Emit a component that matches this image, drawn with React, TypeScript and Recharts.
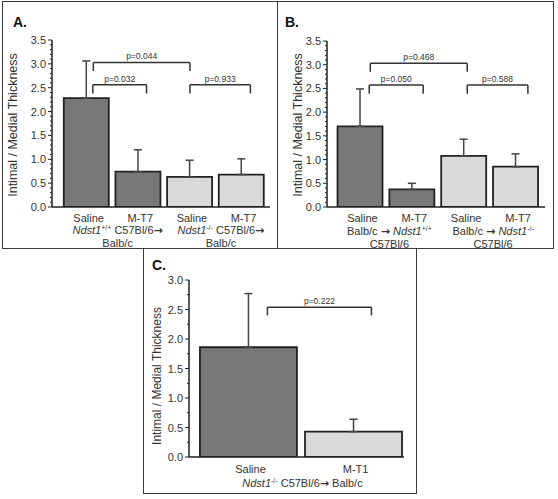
import React from "react";
import { BarChart, Bar, XAxis, YAxis, Cell, ErrorBar, ReferenceLine } from "recharts";

type Seg = [string, "n" | "i" | "s" | "a"];
type Bracket = { from: number; to: number; top: number; leg: number; text: string };

// ---- panel A ----
const treatmentsA = ["Saline", "M-T7", "Saline", "M-T7"];
const meansA = [2.28, 0.74, 0.63, 0.68];
const errorsA = [0.78, 0.46, 0.35, 0.33];
const donorsA: Seg[][] = [
  [["Ndst1", "i"], ["+/+", "s"], [" C57Bl/6", "n"], ["→", "a"]],
  [["Ndst1", "i"], ["-/-", "s"], [" C57Bl/6", "n"], ["→", "a"]],
];
const hostsA = ["Balb/c", "Balb/c"];
const bracketsA: Bracket[] = [
  { from: 1.13, to: 3.0, top: 3.03, leg: 2.85, text: "p=0.044" },
  { from: 1.12, to: 2.16, top: 2.56, leg: 2.38, text: "p=0.032" },
  { from: 3.0, to: 4.17, top: 2.56, leg: 2.38, text: "p=0.933" },
];

// ---- panel B ----
const treatmentsB = ["Saline", "M-T7", "Saline", "M-T7"];
const meansB = [1.7, 0.37, 1.08, 0.85];
const errorsB = [0.79, 0.13, 0.35, 0.27];
const donorsB: Seg[][] = [
  [["Balb/c ", "n"], ["→", "a"], [" ", "n"], ["Ndst1", "i"], ["+/+", "s"]],
  [["Balb/c ", "n"], ["→", "a"], [" ", "n"], ["Ndst1", "i"], ["-/-", "s"]],
];
const hostsB = ["C57Bl/6", "C57Bl/6"];
const bracketsB: Bracket[] = [
  { from: 1.19, to: 3.06, top: 3.03, leg: 2.85, text: "p=0.468" },
  { from: 1.17, to: 2.21, top: 2.57, leg: 2.39, text: "p=0.050" },
  { from: 3.06, to: 4.23, top: 2.57, leg: 2.39, text: "p=0.588" },
];

// ---- panel C ----
const treatmentsC = ["Saline", "M-T1"];
const meansC = [1.86, 0.43];
const errorsC = [0.91, 0.21];
const donorsC: Seg[][] = [[["Ndst1", "i"], ["-/-", "s"], [" C57Bl/6", "n"], ["→", "a"], [" Balb/c", "n"]]];
const bracketsC: Bracket[] = [{ from: 1.18, to: 2.17, top: 2.54, leg: 2.4, text: "p=0.222" }];

// ---- axes ----
const yTicksAB = [
  0, 0.1, 0.2, 0.3, 0.4, 0.5, 0.6, 0.7, 0.8, 0.9, 1, 1.1, 1.2, 1.3, 1.4, 1.5, 1.6, 1.7,
  1.8, 1.9, 2, 2.1, 2.2, 2.3, 2.4, 2.5, 2.6, 2.7, 2.8, 2.9, 3, 3.1, 3.2, 3.3, 3.4, 3.5,
];
const yMajorAB = [0, 0.5, 1, 1.5, 2, 2.5, 3, 3.5];
const yTicksC = [0, 0.25, 0.5, 0.75, 1, 1.25, 1.5, 1.75, 2, 2.25, 2.5, 2.75, 3];
const yMajorC = [0, 0.5, 1, 1.5, 2, 2.5, 3];
const yTitle = "Intimal / Medial Thickness";

const DARK = "#787878";
const LIGHT = "#d9d9d9";
const FONT = "'Liberation Sans', Arial, sans-serif";
const INK = "#333";

function segs(parts: Seg[]) {
  let raised = false;
  return parts.map(([t, k], i) => {
    let dy = 0;
    if (k === "s" && !raised) { dy = -4; raised = true; }
    else if (k !== "s" && raised) { dy = 4; raised = false; }
    return (
      <tspan key={i} dy={dy || undefined}
        fontStyle={k === "i" ? "italic" : undefined}
        fontSize={k === "s" ? 7 : undefined}
        fontFamily={k === "a" ? "'DejaVu Sans', sans-serif" : undefined}
        fontWeight={k === "a" ? 700 : undefined}>
        {t}
      </tspan>
    );
  });
}

function XTick(props: any) {
  const { x, y, payload, cfg } = props;
  const i = Math.round(payload.value) - 1;
  const st = { fontFamily: FONT, fontSize: 11, fill: INK };
  const g = i / 2;
  return (
    <g>
      <text x={x + 2} y={y + cfg.dy1} textAnchor="middle" {...st}>{cfg.top[i]}</text>
      {i % 2 === 0 && cfg.donors[g] && (
        <text x={x + cfg.gdx} y={y + cfg.dy2} textAnchor="middle" {...st}>{segs(cfg.donors[g])}</text>
      )}
      {i % 2 === 0 && cfg.hosts && cfg.hosts[g] && (
        <text x={x + cfg.gdx} y={y + cfg.dy3} textAnchor="middle" {...st}>{cfg.hosts[g]}</text>
      )}
    </g>
  );
}

function YTick(props: any) {
  const { x, y, payload, majors } = props;
  const v = payload.value as number;
  const major = majors.some((m: number) => Math.abs(m - v) < 1e-6);
  return (
    <g>
      <line x1={major ? x + 2 : x + 4} x2={x + 6} y1={y} y2={y} stroke="#222" strokeWidth={1} />
      {major && (
        <text x={x} y={y} dy={4} textAnchor="end" fontFamily={FONT} fontSize={11} fill={INK}>
          {v.toFixed(1)}
        </text>
      )}
    </g>
  );
}

type PanelProps = {
  left: number; top: number; width: number; height: number;
  yAxisWidth: number; marginTop: number; marginRight: number; xAxisHeight: number;
  treatments: string[]; means: number[]; errors: number[]; fills: string[];
  xDomain: [number, number]; xTicks: number[]; yDomain: [number, number];
  yTicks: number[]; yMajor: number[]; brackets: Bracket[]; barSize: number; tickCfg: any;
};

function Panel(p: PanelProps) {
  const rows = p.treatments.map((t, i) => ({ x: i + 1, name: t, mean: p.means[i], err: [0, p.errors[i]] }));
  const line = { stroke: "#333", strokeWidth: 1.5 };
  return (
    <div style={{ position: "absolute", left: p.left, top: p.top }}>
      <BarChart width={p.width} height={p.height} data={rows}
        margin={{ top: p.marginTop, right: p.marginRight, bottom: 0, left: 0 }}>
        <XAxis type="number" dataKey="x" domain={p.xDomain} ticks={p.xTicks} allowDataOverflow interval={0}
          height={p.xAxisHeight} tickLine={false} tickSize={0} tickMargin={0}
          axisLine={{ stroke: "#222", strokeWidth: 1.5 }} tick={<XTick cfg={p.tickCfg} />} />
        <YAxis type="number" domain={p.yDomain} ticks={p.yTicks} allowDataOverflow interval={0}
          width={p.yAxisWidth} tickLine={false} tickSize={4} tickMargin={2}
          axisLine={{ stroke: "#222", strokeWidth: 1.5 }} tick={<YTick majors={p.yMajor} />} />
        <Bar dataKey="mean" barSize={p.barSize} stroke="#222" strokeWidth={1.8} isAnimationActive={false}>
          {rows.map((r, i) => <Cell key={r.x} fill={p.fills[i]} />)}
          <ErrorBar dataKey="err" direction="y" width={4} stroke="#444" strokeWidth={1.5} isAnimationActive={false} />
        </Bar>
        {p.brackets.map((b, i) => [
          <ReferenceLine key={`h${i}`} segment={[{ x: b.from, y: b.top }, { x: b.to, y: b.top }]} {...line}
            label={{ value: b.text, position: "top", offset: 3, fill: INK, fontSize: 8.5, fontFamily: FONT }} />,
          <ReferenceLine key={`l${i}`} segment={[{ x: b.from, y: b.top }, { x: b.from, y: b.leg }]} {...line} />,
          <ReferenceLine key={`r${i}`} segment={[{ x: b.to, y: b.top }, { x: b.to, y: b.leg }]} {...line} />,
        ])}
      </BarChart>
    </div>
  );
}

function Box({ x, y, w, h }: { x: number; y: number; w: number; h: number }) {
  return (
    <div style={{ position: "absolute", left: x, top: y, width: w, height: h,
      border: "1.5px solid #3a3a3a", boxSizing: "border-box" }} />
  );
}

export default function App() {
  const titleSt = { fontFamily: FONT, fontSize: 14, fontWeight: 700, fill: "#111" };
  const ySt = { fontFamily: FONT, fill: INK };
  return (
    <div style={{ position: "absolute", left: 0, top: 0, width: 558, height: 499, background: "#fff", overflow: "hidden" }}>
      <Box x={2} y={1} w={276} h={248} />
      <Box x={277} y={1} w={277} h={248} />
      <Box x={143} y={248} w={274} h={246} />
      <Panel left={0} top={0} width={277} height={249} yAxisWidth={52} marginTop={40} marginRight={7} xAxisHeight={42}
        treatments={treatmentsA} means={meansA} errors={errorsA} fills={[DARK, DARK, LIGHT, LIGHT]}
        xDomain={[0.33, 4.55]} xTicks={[1, 2, 3, 4]} yDomain={[0, 3.5]} yTicks={yTicksAB} yMajor={yMajorAB}
        brackets={bracketsA} barSize={45}
        tickCfg={{ top: treatmentsA, donors: donorsA, hosts: hostsA, gdx: 31, dy1: 15, dy2: 27, dy3: 40 }} />
      <Panel left={277} top={0} width={276} height={249} yAxisWidth={50} marginTop={41} marginRight={8} xAxisHeight={42}
        treatments={treatmentsB} means={meansB} errors={errorsB} fills={[DARK, DARK, LIGHT, LIGHT]}
        xDomain={[0.355, 4.56]} xTicks={[1, 2, 3, 4]} yDomain={[0, 3.5]} yTicks={yTicksAB} yMajor={yMajorAB}
        brackets={bracketsB} barSize={45}
        tickCfg={{ top: treatmentsB, donors: donorsB, hosts: hostsB, gdx: 29, dy1: 15, dy2: 28, dy3: 41 }} />
      <Panel left={143} top={249} width={273} height={244} yAxisWidth={46} marginTop={31} marginRight={12} xAxisHeight={36}
        treatments={treatmentsC} means={meansC} errors={errorsC} fills={[DARK, LIGHT]}
        xDomain={[0.434, 2.48]} xTicks={[1, 2]} yDomain={[0, 3]} yTicks={yTicksC} yMajor={yMajorC}
        brackets={bracketsC} barSize={97}
        tickCfg={{ top: treatmentsC, donors: donorsC, hosts: null, gdx: 54, dy1: 16, dy2: 30, dy3: 0 }} />
      <svg width={558} height={499} style={{ position: "absolute", left: 0, top: 0, pointerEvents: "none" }}>
        <text x={13} y={27} {...titleSt}>A.</text>
        <text x={285} y={27} {...titleSt}>B.</text>
        <text x={152} y={270} {...titleSt}>C.</text>
        <text transform="translate(13,125) rotate(-90)" textAnchor="middle" dominantBaseline="central" fontSize={12.5} {...ySt}>{yTitle}</text>
        <text transform="translate(298,125) rotate(-90)" textAnchor="middle" dominantBaseline="central" fontSize={12.5} {...ySt}>{yTitle}</text>
        <text transform="translate(157,376) rotate(-90)" textAnchor="middle" dominantBaseline="central" fontSize={12} {...ySt}>{yTitle}</text>
      </svg>
    </div>
  );
}
